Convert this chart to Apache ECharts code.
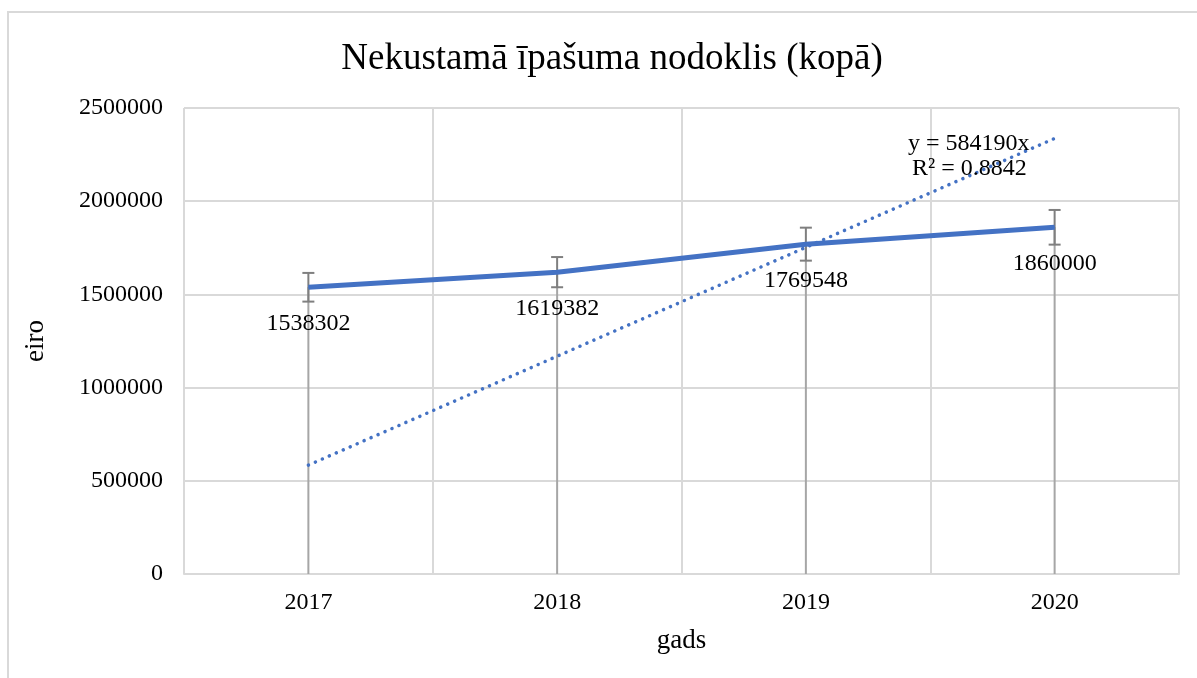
<!DOCTYPE html>
<html>
<head>
<meta charset="utf-8">
<script src="https://cdn.jsdelivr.net/npm/echarts@6/dist/echarts.min.js"></script>
<style>
  html, body { margin: 0; padding: 0; background: #fff; }
  #chart { width: 1197px; height: 678px; }
</style>
</head>
<body>
<div id="chart"></div>
<script>
// dati
var years = ['2017', '2018', '2019', '2020'];
var tax = [1538302, 1619382, 1769548, 1860000];
// lineara tendence y = 584190x (x = 1..4)
var trend = [584190, 1168380, 1752570, 2336760];
var errorPct = 0.05;
var yTicks = [0, 500000, 1000000, 1500000, 2000000, 2500000];

var serif = 'Liberation Serif';
var blue = '#4472C4';

var myChart = echarts.init(document.getElementById('chart'));

var option = {
    animation: false,
    title: {
        text: 'Nekustamā īpašuma nodoklis (kopā)',
        left: 607,
        top: 36,
        textAlign: 'center',
        textStyle: { fontFamily: serif, fontSize: 37, fontWeight: 'normal', color: '#000' }
    },
    graphic: [
        {
            type: 'rect',
            shape: { x: 8, y: 12, width: 1250, height: 720 },
            style: { fill: 'none', stroke: '#d9d9d9', lineWidth: 2 },
            silent: true
        },
        {
            type: 'text',
            left: 908,
            top: 132,
            style: { text: 'y = 584190x', fontFamily: serif, fontSize: 24, fill: '#000' },
            z: 100
        },
        {
            type: 'text',
            left: 912,
            top: 157,
            style: { text: 'R² = 0.8842', fontFamily: serif, fontSize: 24, fill: '#000' },
            z: 100
        }
    ],
    grid: { left: 184, right: 18, top: 108, bottom: 104 },
    xAxis: {
        type: 'category',
        data: years,
        boundaryGap: true,
        name: 'gads',
        nameLocation: 'middle',
        nameGap: 53,
        nameTextStyle: { fontFamily: serif, fontSize: 27, color: '#000' },
        axisLine: { lineStyle: { color: '#d9d9d9', width: 2 } },
        axisTick: { show: false },
        axisLabel: { fontFamily: serif, fontSize: 24, color: '#000', margin: 17 },
        splitLine: { show: true, lineStyle: { color: '#d9d9d9', width: 2 } }
    },
    yAxis: {
        type: 'value',
        min: yTicks[0],
        max: yTicks[yTicks.length - 1],
        interval: 500000,
        name: 'eiro',
        nameLocation: 'middle',
        nameGap: 135,
        nameTextStyle: { fontFamily: serif, fontSize: 27, color: '#000' },
        axisLine: { show: false },
        axisTick: { show: false },
        axisLabel: {
            fontFamily: serif, fontSize: 24, color: '#000', margin: 21,
            formatter: function (v) { return String(v); }
        },
        splitLine: { lineStyle: { color: '#d9d9d9', width: 2 } }
    },
    series: [
        {
            // krituma līnijas
            type: 'custom',
            z: 1,
            silent: true,
            renderItem: function (params, api) {
                var top = api.coord([api.value(0), api.value(1)]);
                var bottom = api.coord([api.value(0), 0]);
                return {
                    type: 'line',
                    shape: { x1: top[0], y1: top[1], x2: bottom[0], y2: bottom[1] },
                    style: { stroke: '#a6a6a6', lineWidth: 2 }
                };
            },
            data: tax.map(function (v, i) { return [i, v]; })
        },
        {
            // kļūdu joslas
            type: 'custom',
            z: 2,
            silent: true,
            renderItem: function (params, api) {
                var v = api.value(1);
                var hi = api.coord([api.value(0), v * (1 + errorPct)]);
                var lo = api.coord([api.value(0), v * (1 - errorPct)]);
                var w = 6;
                var st = { stroke: '#7f7f7f', lineWidth: 2 };
                return {
                    type: 'group',
                    children: [
                        { type: 'line', shape: { x1: hi[0], y1: hi[1], x2: lo[0], y2: lo[1] }, style: st },
                        { type: 'line', shape: { x1: hi[0] - w, y1: hi[1], x2: hi[0] + w, y2: hi[1] }, style: st },
                        { type: 'line', shape: { x1: lo[0] - w, y1: lo[1], x2: lo[0] + w, y2: lo[1] }, style: st }
                    ]
                };
            },
            data: tax.map(function (v, i) { return [i, v]; })
        },
        {
            type: 'line',
            name: 'Lineārā (nodoklis)',
            data: trend,
            z: 3,
            symbol: 'none',
            lineStyle: { color: blue, width: 3.5, type: [0.1, 7.5], cap: 'round' }
        },
        {
            type: 'line',
            name: 'nodoklis',
            data: tax,
            z: 4,
            symbol: 'circle',
            symbolSize: 1,
            itemStyle: { color: blue },
            lineStyle: { color: blue, width: 5 },
            label: {
                show: true,
                position: 'bottom',
                distance: 24,
                fontFamily: serif,
                fontSize: 24,
                color: '#000'
            }
        }
    ]
};

myChart.setOption(option);
</script>
</body>
</html>
